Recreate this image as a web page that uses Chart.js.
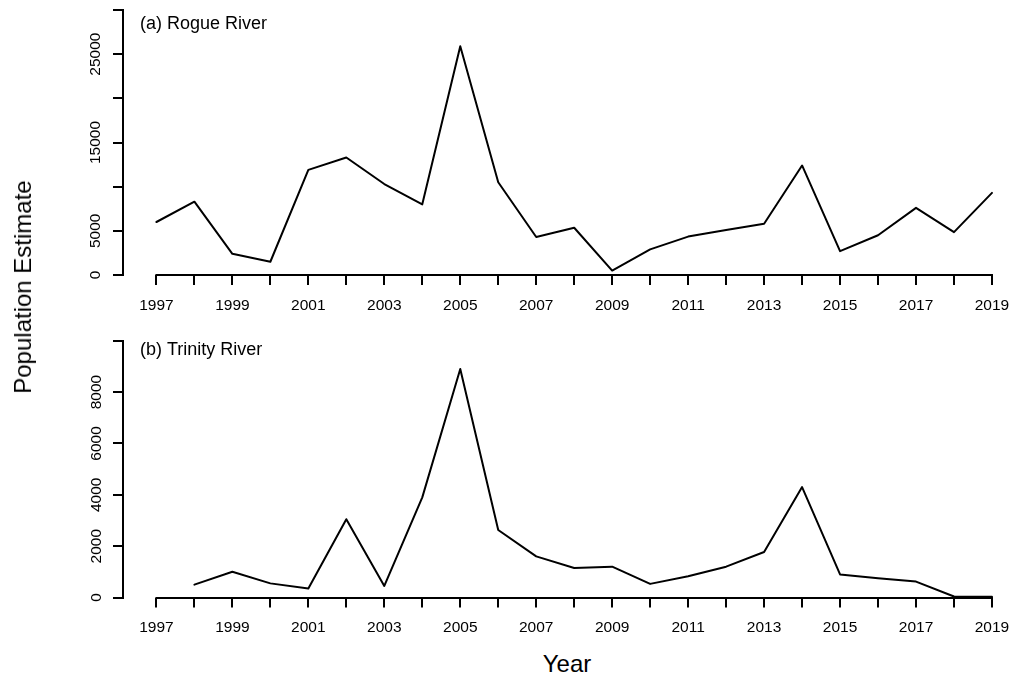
<!DOCTYPE html>
<html>
<head>
<meta charset="utf-8">
<title>Population Estimate — Rogue and Trinity Rivers</title>
<script src="https://cdn.jsdelivr.net/npm/chart.js@4.4.1/dist/chart.umd.min.js"></script>
<style>
  html, body { margin: 0; padding: 0; background: #fff; }
  #page {
    position: relative; width: 1014px; height: 683px; overflow: hidden;
    background: #fff; color: #000;
    font-family: "Liberation Sans", Arial, sans-serif;
  }
  #page canvas { position: absolute; left: 0; }
  #rogueChart { top: 0; }
  #trinityChart { top: 320px; }
  #yTitle {
    position: absolute; left: 23px; top: 287px; white-space: nowrap;
    font-size: 24px; transform: translate(-50%, -50%) rotate(-90deg);
  }
  #xTitle {
    position: absolute; left: 567px; top: 664px; white-space: nowrap;
    font-size: 24px; transform: translate(-50%, -50%);
  }
</style>
</head>
<body>
<div id="page">
  <canvas id="rogueChart" width="1040" height="320"></canvas>
  <canvas id="trinityChart" width="1040" height="330"></canvas>
  <div id="yTitle">Population Estimate</div>
  <div id="xTitle">Year</div>
</div>
<script>
// Survey years
const years = [1997, 1998, 1999, 2000, 2001, 2002, 2003, 2004, 2005, 2006, 2007, 2008,
               2009, 2010, 2011, 2012, 2013, 2014, 2015, 2016, 2017, 2018, 2019];
const yearLabels = ['1997', '', '1999', '', '2001', '', '2003', '', '2005', '', '2007', '',
                    '2009', '', '2011', '', '2013', '', '2015', '', '2017', '', '2019'];

// (a) Rogue River population estimates
const rogueValues = [6000, 8300, 2400, 1500, 11900, 13300, 10300, 8000, 25900, 10500, 4300, 5350,
                     500, 2900, 4350, 5100, 5800, 12400, 2700, 4500, 7600, 4850, 9300];
const rogueTicks = [0, 5000, 10000, 15000, 20000, 25000, 30000];
const rogueTickLabels = ['0', '5000', '', '15000', '', '25000', ''];

// (b) Trinity River population estimates (no estimate for 1997)
const trinityValues = [null, 500, 1000, 550, 350, 3050, 450, 3900, 8900, 2630, 1600, 1150,
                       1200, 530, 830, 1200, 1770, 4300, 900, 750, 620, 40, 30];
const trinityTicks = [0, 2000, 4000, 6000, 8000, 10000];
const trinityTickLabels = ['0', '2000', '4000', '6000', '8000', ''];

const panelTitles = ['(a) Rogue River', '(b) Trinity River'];

const FONT = '"Liberation Sans", Arial, sans-serif';

// Panel caption drawn inside the plotting region
const panelLabel = {
  id: 'panelLabel',
  afterDraw(chart, args, opts) {
    const { ctx, chartArea } = chart;
    ctx.save();
    ctx.font = '18px ' + FONT;
    ctx.fillStyle = '#000';
    ctx.textBaseline = 'alphabetic';
    ctx.textAlign = 'left';
    ctx.fillText(opts.text, chartArea.left + opts.dx, chartArea.top + opts.dy);
    ctx.restore();
  }
};

// Year axis line running only between the first and last tick
const yearAxisLine = {
  id: 'yearAxisLine',
  afterDraw(chart) {
    const xs = chart.scales.x;
    const ctx = chart.ctx;
    const y = Math.round(chart.chartArea.bottom);
    ctx.save();
    ctx.strokeStyle = '#000';
    ctx.lineWidth = 2;
    ctx.beginPath();
    ctx.moveTo(xs.getPixelForValue(years[0]) - 1, y);
    ctx.lineTo(xs.getPixelForValue(years[years.length - 1]) + 1, y);
    ctx.stroke();
    ctx.restore();
  }
};

function makePanel(canvasId, values, yTicks, yTickLabels, yMax, cfg) {
  const points = years.map((yr, i) => ({ x: yr, y: values[i] }));
  return new Chart(document.getElementById(canvasId), {
    type: 'line',
    data: {
      datasets: [{
        data: points,
        borderColor: '#000',
        borderWidth: 2,
        pointRadius: 0,
        pointHoverRadius: 0,
        tension: 0,
        borderJoinStyle: 'round',
        borderCapStyle: 'round',
        spanGaps: false
      }]
    },
    options: {
      responsive: false,
      animation: false,
      devicePixelRatio: 1,
      events: [],
      // plotting region: x 123 → 1025.4 (extends past the visible page edge)
      layout: { padding: { top: cfg.padTop, right: 14.6, left: 0, bottom: 0 } },
      plugins: {
        legend: { display: false },
        tooltip: { enabled: false },
        panelLabel: { text: cfg.title, dx: 17, dy: cfg.titleDy }
      },
      scales: {
        x: {
          type: 'linear',
          min: 1996.12,
          max: 2019.88,
          afterBuildTicks: (scale) => { scale.ticks = years.map(v => ({ value: v })); },
          afterFit: (scale) => { scale.height = cfg.xHeight; },
          border: { display: false },
          grid: { display: true, drawOnChartArea: false, drawTicks: true, tickLength: 10, color: '#000', lineWidth: 2 },
          ticks: {
            autoSkip: false, maxRotation: 0, minRotation: 0, padding: 11,
            color: '#000', font: { family: FONT, size: 15.5 },
            callback: (v, i) => yearLabels[i]
          }
        },
        y: {
          type: 'linear',
          min: 0,
          max: yMax,
          afterBuildTicks: (scale) => { scale.ticks = yTicks.map(v => ({ value: v })); },
          afterFit: (scale) => { scale.width = 123; },
          border: { display: true, color: '#000', width: 2 },
          grid: { display: true, drawOnChartArea: false, drawTicks: true, tickLength: 10, color: '#000', lineWidth: 2 },
          ticks: {
            autoSkip: false, minRotation: 90, maxRotation: 90,
            crossAlign: 'center', padding: cfg.yPad,
            color: '#000', font: { family: FONT, size: 15.5 },
            callback: (v, i) => yTickLabels[i]
          }
        }
      }
    },
    plugins: [panelLabel, yearAxisLine]
  });
}

makePanel('rogueChart', rogueValues, rogueTicks, rogueTickLabels, 30000,
  { padTop: 10, xHeight: 45, title: panelTitles[0], titleDy: 19.3, yPad: -4 });
makePanel('trinityChart', trinityValues, trinityTicks, trinityTickLabels, 10000,
  { padTop: 20.7, xHeight: 52.5, title: panelTitles[1], titleDy: 14.3, yPad: -0.5 });
</script>
</body>
</html>
